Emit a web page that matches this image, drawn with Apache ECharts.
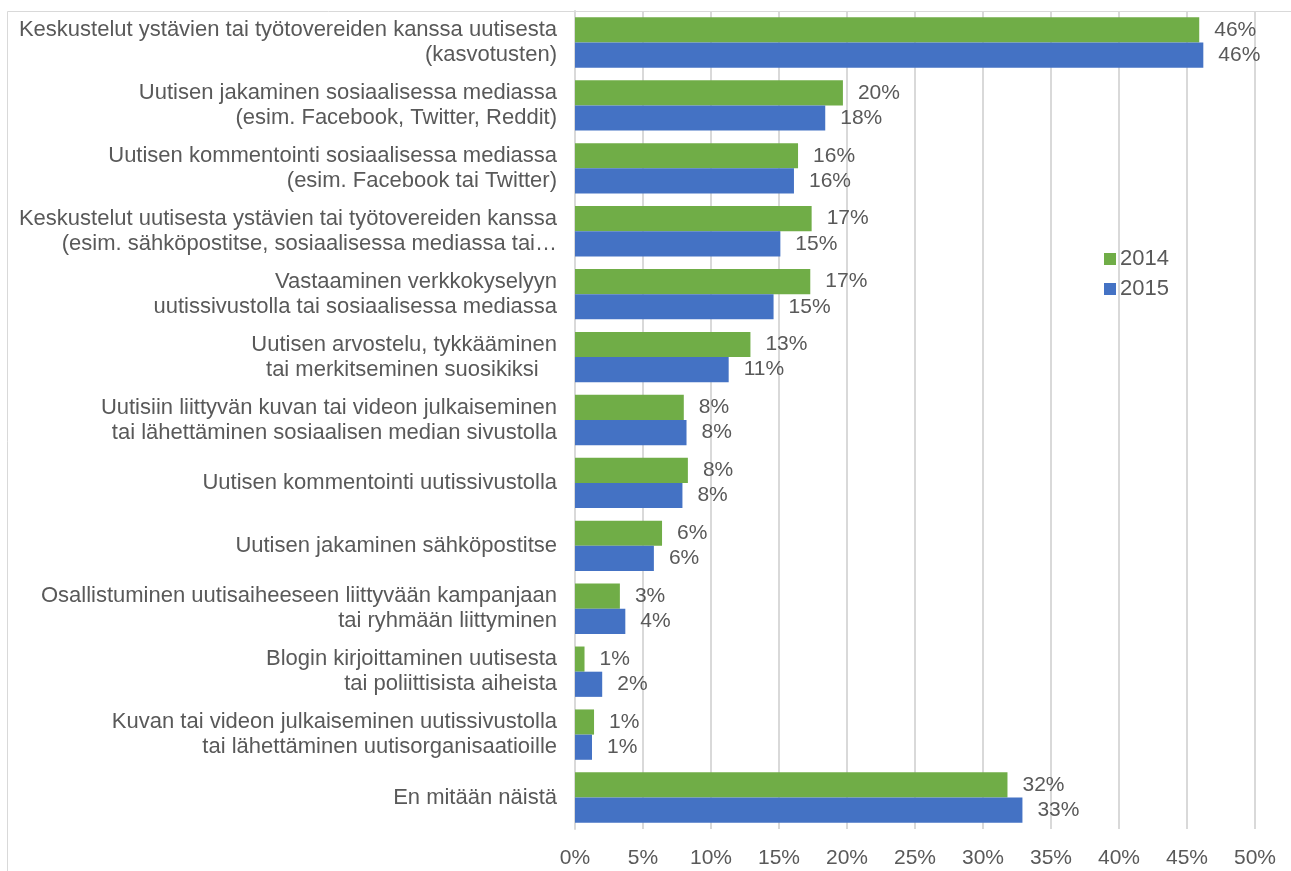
<!DOCTYPE html>
<html>
<head>
<meta charset="utf-8">
<script src="https://cdn.jsdelivr.net/npm/echarts@6/dist/echarts.min.js"></script>
<style>
html,body{margin:0;padding:0;background:#fff;}
#chart{width:1291px;height:871px;}
</style>
</head>
<body>
<div id="chart"></div>
<script>
const categories = [
  "Keskustelut ystävien tai työtovereiden kanssa uutisesta\n(kasvotusten)",
  "Uutisen jakaminen sosiaalisessa mediassa\n(esim. Facebook, Twitter, Reddit)",
  "Uutisen kommentointi sosiaalisessa mediassa\n(esim. Facebook tai Twitter)",
  "Keskustelut uutisesta ystävien tai työtovereiden kanssa\n(esim. sähköpostitse, sosiaalisessa mediassa tai…",
  "Vastaaminen verkkokyselyyn\nuutissivustolla tai sosiaalisessa mediassa",
  "Uutisen arvostelu, tykkääminen\ntai merkitseminen suosikiksi   ",
  "Uutisiin liittyvän kuvan tai videon julkaiseminen\ntai lähettäminen sosiaalisen median sivustolla",
  "Uutisen kommentointi uutissivustolla",
  "Uutisen jakaminen sähköpostitse",
  "Osallistuminen uutisaiheeseen liittyvään kampanjaan\ntai ryhmään liittyminen",
  "Blogin kirjoittaminen uutisesta\ntai poliittisista aiheista",
  "Kuvan tai videon julkaiseminen uutissivustolla\ntai lähettäminen uutisorganisaatioille",
  "En mitään näistä"
];
const values2014 = [45.9, 19.7, 16.4, 17.4, 17.3, 12.9, 8.0, 8.3, 6.4, 3.3, 0.7, 1.4, 31.8];
const values2015 = [46.2, 18.4, 16.1, 15.1, 14.6, 11.3, 8.2, 7.9, 5.8, 3.7, 2.0, 1.25, 32.9];
const seriesNames = ["2014", "2015"];
const xTicks = [0, 5, 10, 15, 20, 25, 30, 35, 40, 45, 50];

const FONT = "'Liberation Sans', Arial, sans-serif";
const TXT = "#595959";
const GRID = "#d9d9d9";

const chart = echarts.init(document.getElementById('chart'));
const labelCfg = {
  show: true,
  position: 'right',
  distance: 15,
  color: TXT,
  fontFamily: FONT,
  fontSize: 21,
  formatter: p => Math.round(p.value) + '%'
};
chart.setOption({
  animation: false,
  backgroundColor: '#fff',
  textStyle: {fontFamily: FONT},
  graphic: [{
    type: 'rect',
    shape: {x: 7.5, y: 11.5, width: 1400, height: 1000},
    style: {fill: 'none', stroke: GRID, lineWidth: 1},
    silent: true, z: -10
  }],
  legend: {
    orient: 'vertical',
    left: 1099, top: 243,
    itemWidth: 12, itemHeight: 12, itemGap: 8,
    icon: 'rect',
    textStyle: {color: TXT, fontSize: 22, fontFamily: FONT, padding: [0,0,0,-1]},
    data: seriesNames
  },
  grid: {left: 575, right: 36, top: 11, height: 818, containLabel: false},
  xAxis: {
    type: 'value',
    min: 0, max: 50, interval: 5,
    axisLine: {show: false},
    axisTick: {show: false},
    splitLine: {show: true, lineStyle: {color: GRID, width: 2}},
    axisLabel: {color: TXT, fontSize: 21, fontFamily: FONT, margin: 19,
      formatter: v => xTicks.includes(v) ? v + '%' : ''}
  },
  yAxis: {
    type: 'category',
    inverse: true,
    data: categories,
    axisLine: {show: true, lineStyle: {color: GRID, width: 2}},
    axisTick: {show: false},
    axisLabel: {color: TXT, fontSize: 22, fontFamily: FONT, margin: 18, lineHeight: 25, align: 'right'}
  },
  series: [
    {name: seriesNames[0], type: 'bar', data: values2014, itemStyle: {color: '#70AD47'},
     barCategoryGap: '20%', barGap: '0%', label: labelCfg},
    {name: seriesNames[1], type: 'bar', data: values2015, itemStyle: {color: '#4472C4'},
     barCategoryGap: '20%', barGap: '0%', label: labelCfg}
  ]
});
</script>
</body>
</html>
